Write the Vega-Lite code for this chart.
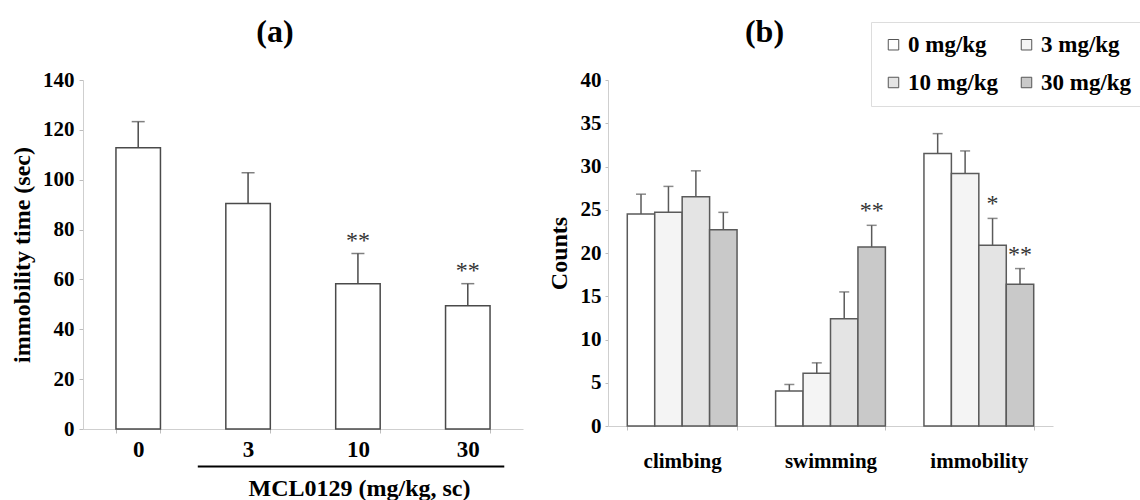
{
  "$schema": "https://vega.github.io/schema/vega-lite/v6.json",
  "padding": {"left": 10, "top": 16, "right": 0, "bottom": 0},
  "spacing": 24,
  "config": {
    "font": "Liberation Serif",
    "view": {"stroke": null},
    "axis": {
      "grid": false,
      "labelFont": "Liberation Serif",
      "labelFontWeight": "bold",
      "labelColor": "#000000",
      "titleFont": "Liberation Serif",
      "titleFontWeight": "bold",
      "titleColor": "#000000",
      "domainColor": "#cfcfcf",
      "tickColor": "#bdbdbd",
      "tickSize": 4
    },
    "title": {"font": "Liberation Serif", "fontWeight": "bold", "fontSize": 32, "color": "#000000"}
  },
  "hconcat": [
    {
      "width": 440,
      "height": 349,
      "title": {"text": "(a)", "dx": -28, "offset": 20, "anchor": "middle"},
      "data": {"values": [
        {"dose": "0", "mean": 112.8, "upper": 123.3, "sig": ""},
        {"dose": "3", "mean": 90.5, "upper": 102.8, "sig": ""},
        {"dose": "10", "mean": 58.3, "upper": 70.4, "sig": "**"},
        {"dose": "30", "mean": 49.4, "upper": 58.3, "sig": "**"}
      ]},
      "encoding": {
        "x": {
          "field": "dose", "type": "ordinal", "sort": null,
          "scale": {"domain": ["0", "3", "10", "30"], "paddingInner": 0.595, "paddingOuter": 0.3},
          "title": "MCL0129 (mg/kg, sc)",
          "axis": {"labelAngle": 0, "labelFontSize": 23, "labelPadding": 5, "tickBand": "extent",
                   "titleFontSize": 24, "titleX": 276, "titleY": 66, "titleBaseline": "alphabetic", "titleAnchor": null, "titleAlign": "center"}
        }
      },
      "layer": [
        {
          "mark": {"type": "bar", "fill": "#ffffff", "stroke": "#4a4a4a", "strokeWidth": 1.5},
          "encoding": {
            "y": {"field": "mean", "type": "quantitative", "scale": {"domain": [0, 140]},
                  "title": "immobility time (sec)",
                  "axis": {"values": [0, 20, 40, 60, 80, 100, 120, 140], "labelFontSize": 21, "labelPadding": 5, "titleFontSize": 24, "titlePadding": 8}}
          }
        },
        {
          "mark": {"type": "rule", "color": "#4a4a4a", "strokeWidth": 1.5},
          "encoding": {
            "y": {"field": "mean", "type": "quantitative", "scale": {"domain": [0, 140]}, "title": "immobility time (sec)"},
            "y2": {"field": "upper"}
          }
        },
        {
          "mark": {"type": "tick", "orient": "horizontal", "size": 13, "thickness": 1.5, "color": "#4a4a4a"},
          "encoding": {
            "y": {"field": "upper", "type": "quantitative", "scale": {"domain": [0, 140]}, "title": "immobility time (sec)"}
          }
        },
        {
          "transform": [{"filter": "datum.sig != ''"}],
          "mark": {"type": "text", "fontSize": 24, "font": "Liberation Serif", "baseline": "alphabetic", "dy": -6, "color": "#333333"},
          "encoding": {
            "y": {"field": "upper", "type": "quantitative", "scale": {"domain": [0, 140]}, "title": "immobility time (sec)"},
            "text": {"field": "sig"}
          }
        },
        {
          "data": {"values": [{"from": "3", "to": "30", "level": -15}]},
          "mark": {"type": "rule", "color": "#000000", "strokeWidth": 2},
          "encoding": {
            "x": {"field": "from", "type": "ordinal", "sort": null, "scale": {"domain": ["0", "3", "10", "30"]}, "bandPosition": -0.63, "title": "MCL0129 (mg/kg, sc)"},
            "x2": {"field": "to", "bandPosition": 1.32},
            "y": {"field": "level", "type": "quantitative", "scale": {"domain": [0, 140]}, "title": "immobility time (sec)"}
          }
        }
      ]
    },
    {
      "width": 445,
      "height": 346,
      "title": {"text": "(b)", "dx": -66, "offset": 20, "anchor": "middle"},
      "data": {"values": [
        {"behavior": "climbing", "dose": "0 mg/kg", "mean": 24.5, "upper": 26.8, "sig": ""},
        {"behavior": "climbing", "dose": "3 mg/kg", "mean": 24.7, "upper": 27.7, "sig": ""},
        {"behavior": "climbing", "dose": "10 mg/kg", "mean": 26.5, "upper": 29.5, "sig": ""},
        {"behavior": "climbing", "dose": "30 mg/kg", "mean": 22.7, "upper": 24.7, "sig": ""},
        {"behavior": "swimming", "dose": "0 mg/kg", "mean": 4.05, "upper": 4.8, "sig": ""},
        {"behavior": "swimming", "dose": "3 mg/kg", "mean": 6.1, "upper": 7.3, "sig": ""},
        {"behavior": "swimming", "dose": "10 mg/kg", "mean": 12.4, "upper": 15.5, "sig": ""},
        {"behavior": "swimming", "dose": "30 mg/kg", "mean": 20.7, "upper": 23.2, "sig": "**"},
        {"behavior": "immobility", "dose": "0 mg/kg", "mean": 31.5, "upper": 33.8, "sig": ""},
        {"behavior": "immobility", "dose": "3 mg/kg", "mean": 29.2, "upper": 31.8, "sig": ""},
        {"behavior": "immobility", "dose": "10 mg/kg", "mean": 20.9, "upper": 24.0, "sig": "*"},
        {"behavior": "immobility", "dose": "30 mg/kg", "mean": 16.4, "upper": 18.2, "sig": "**"}
      ]},
      "encoding": {
        "x": {
          "field": "behavior", "type": "nominal", "sort": ["climbing", "swimming", "immobility"],
          "scale": {"paddingInner": 0.26, "paddingOuter": 0.13},
          "title": null,
          "axis": {"labelAngle": 0, "labelFontSize": 21, "labelPadding": 20, "tickBand": "extent"}
        },
        "xOffset": {"field": "dose", "type": "nominal", "sort": ["0 mg/kg", "3 mg/kg", "10 mg/kg", "30 mg/kg"], "scale": {"paddingInner": 0, "paddingOuter": 0}}
      },
      "layer": [
        {
          "mark": {"type": "bar", "stroke": "#5a5a5a", "strokeWidth": 1.5},
          "encoding": {
            "y": {"field": "mean", "type": "quantitative", "scale": {"domain": [0, 40]}, "title": "Counts",
                  "axis": {"values": [0, 5, 10, 15, 20, 25, 30, 35, 40], "labelFontSize": 21, "labelPadding": 4, "tickSize": 3, "titleFontSize": 24, "titlePadding": 9}},
            "fill": {
              "field": "dose", "type": "nominal",
              "scale": {"domain": ["0 mg/kg", "3 mg/kg", "10 mg/kg", "30 mg/kg"], "range": ["#ffffff", "#f4f4f4", "#e4e4e4", "#c9c9c9"]},
              "legend": {
                "title": null, "orient": "none", "legendX": 788, "legendY": -58, "direction": "horizontal", "columns": 2,
                "symbolType": "square", "symbolSize": 110, "symbolStrokeColor": "#555555", "symbolStrokeWidth": 1,
                "labelFont": "Liberation Serif", "labelFontWeight": "bold", "labelFontSize": 23, "labelColor": "#000000",
                "labelOffset": 3, "columnPadding": 16, "rowPadding": 14, "padding": 11,
                "strokeColor": "#dddddd", "fillColor": "#ffffff", "labelLimit": 200
              }
            }
          }
        },
        {
          "mark": {"type": "rule", "color": "#5a5a5a", "strokeWidth": 1.5},
          "encoding": {
            "y": {"field": "mean", "type": "quantitative", "scale": {"domain": [0, 40]}, "title": "Counts"},
            "y2": {"field": "upper"}
          }
        },
        {
          "mark": {"type": "tick", "orient": "horizontal", "size": 10, "thickness": 1.5, "color": "#5a5a5a"},
          "encoding": {
            "y": {"field": "upper", "type": "quantitative", "scale": {"domain": [0, 40]}, "title": "Counts"}
          }
        },
        {
          "transform": [{"filter": "datum.sig != ''"}],
          "mark": {"type": "text", "fontSize": 24, "font": "Liberation Serif", "baseline": "alphabetic", "dy": -7, "color": "#333333"},
          "encoding": {
            "y": {"field": "upper", "type": "quantitative", "scale": {"domain": [0, 40]}, "title": "Counts"},
            "text": {"field": "sig"}
          }
        }
      ]
    }
  ]
}
